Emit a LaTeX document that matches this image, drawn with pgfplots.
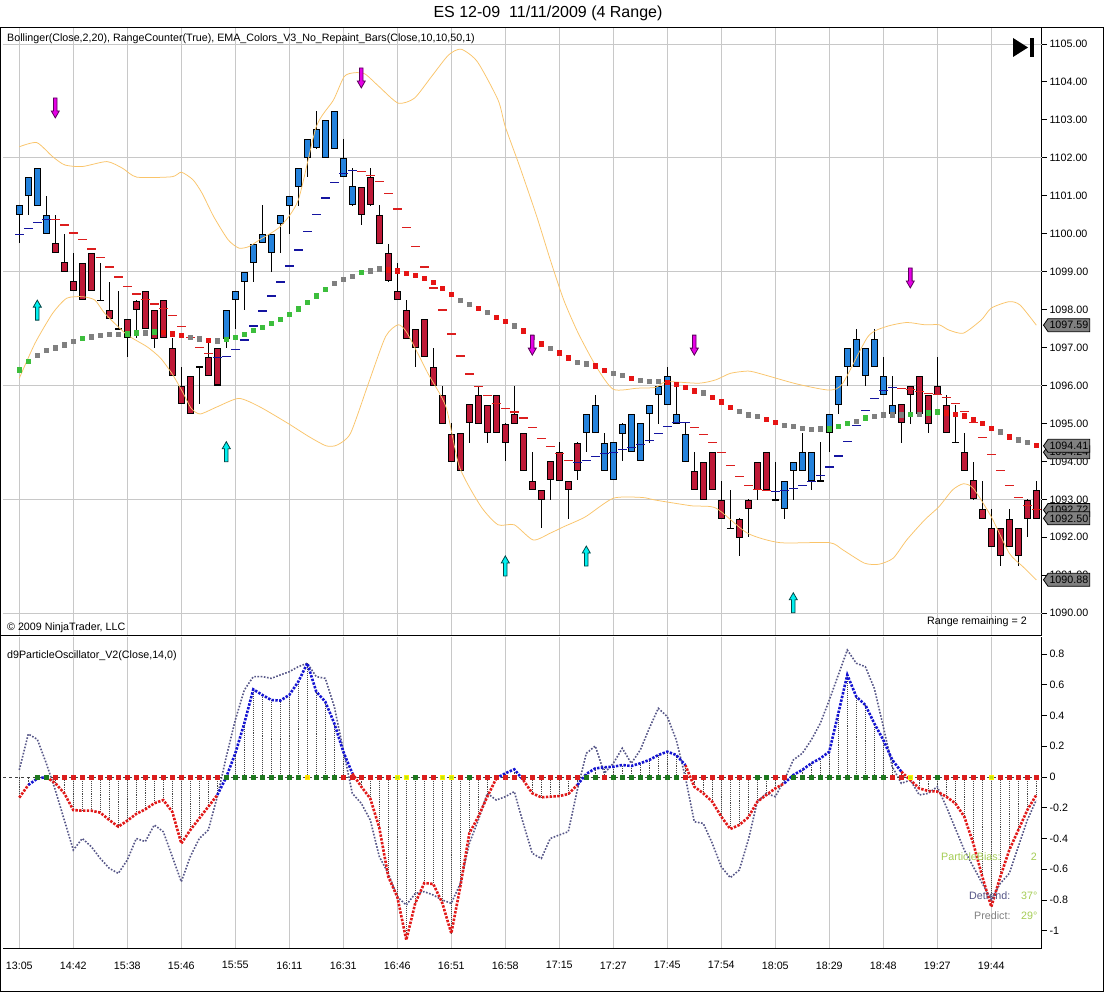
\documentclass[border=0pt]{standalone}
\usepackage{pgfplots}
\pgfplotsset{compat=1.18}
\usepackage{pgfplotstable}
\usepackage{fontspec}
\setmainfont{Liberation Sans}
\usetikzlibrary{shapes.symbols}

\definecolor{candB}{RGB}{36,130,220}
\definecolor{candR}{RGB}{190,25,55}
\definecolor{dashB}{RGB}{20,20,160}
\definecolor{dashR}{RGB}{220,30,30}
\definecolor{emaG}{RGB}{60,190,60}
\definecolor{emaK}{RGB}{128,128,128}
\definecolor{emaR}{RGB}{230,20,20}
\definecolor{bbc}{RGB}{250,196,105}
\definecolor{arrM}{RGB}{230,0,230}
\definecolor{arrMd}{RGB}{90,0,90}
\definecolor{arrC}{RGB}{0,240,240}
\definecolor{arrCd}{RGB}{0,70,70}
\definecolor{gridc}{RGB}{200,200,200}
\definecolor{oscR}{RGB}{225,25,25}
\definecolor{oscB}{RGB}{20,20,210}
\definecolor{slate}{RGB}{85,85,135}
\definecolor{zG}{RGB}{30,120,30}
\definecolor{zR}{RGB}{220,30,30}
\definecolor{zL}{RGB}{190,230,20}
\definecolor{zY}{RGB}{255,200,0}
\definecolor{limeT}{RGB}{165,205,85}
\definecolor{hatchc}{RGB}{70,70,70}
\definecolor{tagc}{RGB}{128,128,128}

\newcommand\tickfont{\fontsize{10.7pt}{12pt}\selectfont}

\pgfdeclareplotmark{dnarrow}{%
 \pgfpathmoveto{\pgfqpoint{0pt}{0pt}}%
 \pgfpathlineto{\pgfqpoint{-4pt}{7pt}}%
 \pgfpathlineto{\pgfqpoint{-1.8pt}{7pt}}%
 \pgfpathlineto{\pgfqpoint{-1.8pt}{20pt}}%
 \pgfpathlineto{\pgfqpoint{1.8pt}{20pt}}%
 \pgfpathlineto{\pgfqpoint{1.8pt}{7pt}}%
 \pgfpathlineto{\pgfqpoint{4pt}{7pt}}%
 \pgfpathclose\pgfusepathqfillstroke}
\pgfdeclareplotmark{uparrow}{%
 \pgfpathmoveto{\pgfqpoint{0pt}{0pt}}%
 \pgfpathlineto{\pgfqpoint{-4pt}{-7pt}}%
 \pgfpathlineto{\pgfqpoint{-1.8pt}{-7pt}}%
 \pgfpathlineto{\pgfqpoint{-1.8pt}{-20pt}}%
 \pgfpathlineto{\pgfqpoint{1.8pt}{-20pt}}%
 \pgfpathlineto{\pgfqpoint{1.8pt}{-7pt}}%
 \pgfpathlineto{\pgfqpoint{4pt}{-7pt}}%
 \pgfpathclose\pgfusepathqfillstroke}

% candles: i, body low, body high, low, high
\pgfplotstableread{
i lo hi L H
0 1100.5 1100.75 1099.75 1100.75
1 1101 1101.5 1100.5 1101.5
2 1100.75 1101.75 1100.75 1101.75
3 1100 1100.5 1100 1101
23 1097.25 1098 1097 1098
24 1098.25 1098.5 1097.5 1098.5
25 1098.75 1099 1098 1099
26 1099.25 1099.75 1098.75 1099.75
27 1099.75 1100 1099.75 1100.75
28 1099.5 1100 1099 1100
29 1100.25 1100.5 1099.5 1100.5
30 1100.75 1101 1100 1101
31 1101.25 1101.75 1100.75 1101.75
32 1102 1102.5 1101.5 1102.5
33 1102.25 1102.75 1102.25 1103.25
34 1102 1103 1102 1103
35 1102.25 1103.25 1102.25 1103.25
36 1101.5 1102 1101.5 1102.5
37 1100.75 1101.25 1100.75 1101.75
63 1094.75 1095.25 1094.25 1095.25
64 1094.75 1095.5 1094.75 1095.75
65 1093.75 1094.5 1093.75 1094.75
66 1093.5 1094.5 1093.5 1094.5
67 1094.75 1095 1094 1095
68 1094.25 1095.25 1094.25 1095.25
69 1094 1095 1094 1095
70 1095.25 1095.5 1094.5 1095.5
71 1095.75 1096 1095 1096
72 1095.5 1096.25 1095.5 1096.5
73 1095 1095.25 1095 1096
74 1094 1094.75 1094 1095
85 1092.75 1093.5 1092.5 1093.5
86 1093.75 1094 1093 1094
87 1093.75 1094.25 1093.75 1094.75
88 1093.5 1094.25 1093.25 1094.25
90 1094.75 1095.25 1094.25 1095.25
91 1095.5 1096.25 1095.25 1096.25
92 1096.5 1097 1096 1097
93 1096.5 1097.25 1096.5 1097.5
94 1096.25 1097 1096 1097
95 1096.5 1097.25 1096.5 1097.5
96 1095.75 1096.25 1095.75 1096.75
97 1095.25 1095.5 1095.25 1096.25
}\candB

\pgfplotstableread{
i lo hi L H
4 1099.5 1099.75 1099.5 1100.5
5 1099 1099.25 1099 1100
6 1098.5 1098.75 1098.5 1099.5
7 1098.25 1099.25 1098.25 1099.25
8 1098.5 1099.5 1098.5 1099.5
9 1098.25 1098.25 1098.25 1099.25
10 1097.75 1098 1097.75 1098.75
11 1097.5 1097.5 1097.5 1098.5
12 1097.25 1097.75 1096.75 1097.75
13 1098 1098.25 1097.25 1098.25
14 1097.5 1098.5 1097.5 1098.5
15 1097.25 1098 1097 1098
16 1097.25 1098.25 1097.25 1098.25
17 1096.25 1097 1096.25 1097.25
18 1095.5 1096 1095.5 1096.5
19 1095.25 1096.25 1095.25 1096.25
20 1096.5 1096.5 1095.5 1096.5
21 1096.25 1096.75 1096.25 1097.25
22 1096 1097 1096 1097
38 1100.5 1101.25 1100.25 1101.25
39 1100.75 1101.5 1100.75 1101.75
40 1099.75 1100.5 1099.75 1100.75
41 1098.75 1099.5 1098.75 1099.75
42 1098.25 1098.5 1098.25 1099.25
43 1097.25 1098 1097.25 1098.25
44 1097 1097.5 1096.5 1097.5
45 1096.75 1097.75 1096.75 1097.75
46 1096 1096.5 1096 1097
47 1095 1095.75 1095 1096
48 1094 1094.75 1094 1095
49 1093.75 1094.75 1093.75 1094.75
50 1095 1095.5 1094.5 1095.5
51 1095 1095.75 1095 1096
52 1094.75 1095.5 1094.5 1095.5
53 1094.75 1095.75 1094.75 1095.75
54 1094.5 1095 1094 1095
55 1095 1095.25 1095 1096
56 1093.75 1094.75 1093.75 1094.75
57 1093.25 1093.5 1093.25 1094.25
58 1093 1093.25 1092.25 1093.25
59 1093.5 1094 1093 1094
60 1093.5 1094.25 1093.5 1094.5
61 1093.25 1093.5 1092.5 1093.5
62 1093.75 1094.5 1093.5 1094.5
75 1093.25 1093.75 1093.25 1094.25
76 1093 1094 1093 1094
77 1093.25 1094.25 1093.25 1094.25
78 1092.5 1093 1092.5 1093.5
79 1092.25 1092.25 1092.25 1093.25
80 1092 1092.5 1091.5 1092.5
81 1092.75 1093 1092 1093
82 1093.25 1094 1093 1094
83 1093.25 1094.25 1093.25 1094.25
84 1093 1093 1093 1094
89 1093.5 1093.5 1093.5 1094.5
98 1095 1095.5 1094.5 1095.5
99 1095.75 1096 1095 1096
100 1095.25 1096.25 1095.25 1096.25
101 1095 1095.75 1094.75 1095.75
102 1095.75 1096 1095.75 1096.75
103 1094.75 1095.5 1094.75 1095.75
104 1094.5 1094.5 1094.5 1095.5
105 1093.75 1094.25 1093.75 1094.75
106 1093 1093.5 1093 1094
107 1092.5 1092.75 1092.5 1093.5
108 1091.75 1092.25 1091.75 1092.75
109 1091.5 1092.25 1091.25 1092.25
110 1091.75 1092.5 1091.75 1092.75
111 1091.5 1092.25 1091.25 1092.25
112 1092.5 1093 1092 1093
113 1092.5 1093.25 1092.5 1093.5
}\candR

% slow EMA dots (g green, k gray, r red)
\pgfplotstableread{
i v c
0 1096.42 g
1 1096.64 g
2 1096.80 k
3 1096.93 k
4 1097.00 k
5 1097.08 k
6 1097.16 k
7 1097.24 g
8 1097.29 k
9 1097.32 k
10 1097.35 k
11 1097.35 k
12 1097.37 g
13 1097.39 g
14 1097.39 k
15 1097.42 g
16 1097.40 r
17 1097.37 r
18 1097.32 r
19 1097.27 k
20 1097.23 k
21 1097.19 r
22 1097.18 k
23 1097.22 g
24 1097.27 g
25 1097.35 g
26 1097.45 g
27 1097.53 g
28 1097.64 g
29 1097.74 g
30 1097.88 g
31 1098.02 g
32 1098.19 g
33 1098.37 g
34 1098.53 g
35 1098.69 k
36 1098.80 k
37 1098.88 k
38 1098.98 g
39 1099.03 k
40 1099.08 k
41 1099.05 r
42 1099.03 r
43 1098.96 r
44 1098.90 r
45 1098.82 r
46 1098.72 r
47 1098.56 r
48 1098.40 r
49 1098.24 k
50 1098.14 k
51 1098.03 r
52 1097.93 k
53 1097.80 r
54 1097.69 r
55 1097.58 k
56 1097.44 r
57 1097.27 k
58 1097.10 r
59 1096.99 k
60 1096.86 r
61 1096.73 r
62 1096.62 k
63 1096.57 k
64 1096.52 r
65 1096.40 r
66 1096.33 k
67 1096.27 k
68 1096.19 r
69 1096.14 k
70 1096.12 k
71 1096.12 k
72 1096.09 r
73 1096.04 r
74 1095.96 r
75 1095.86 r
76 1095.81 k
77 1095.69 r
78 1095.57 r
79 1095.43 r
80 1095.32 k
81 1095.23 k
82 1095.19 k
83 1095.11 r
84 1095.04 r
85 1094.95 k
86 1094.93 k
87 1094.87 k
88 1094.85 k
89 1094.86 k
90 1094.86 g
91 1094.93 g
92 1095.01 g
93 1095.06 k
94 1095.15 g
95 1095.19 k
96 1095.23 k
97 1095.23 k
98 1095.23 k
99 1095.25 g
100 1095.25 k
101 1095.28 g
102 1095.31 g
103 1095.28 r
104 1095.25 r
105 1095.20 r
106 1095.12 r
107 1095.01 r
108 1094.88 r
109 1094.78 k
110 1094.65 r
111 1094.57 k
112 1094.51 k
113 1094.43 r
}\ema

% range counter dashes (b blue, r red)
\pgfplotstableread{
i v c
0 1099.97 b
1 1100.13 b
2 1100.29 b
3 1100.37 b
4 1100.37 r
5 1100.23 r
6 1100.02 r
7 1099.85 r
8 1099.60 r
9 1099.38 r
10 1099.12 r
11 1098.86 r
12 1098.60 r
13 1098.41 r
14 1098.26 r
15 1098.15 r
16 1098.02 r
17 1097.84 r
18 1097.55 r
19 1097.27 r
20 1097.00 r
21 1096.85 r
22 1096.74 b
23 1096.77 b
24 1096.94 b
25 1097.20 b
26 1097.57 b
27 1097.96 b
28 1098.36 b
29 1098.73 b
30 1099.15 b
31 1099.57 b
32 1100.05 b
33 1100.50 b
34 1100.94 b
35 1101.34 b
36 1101.58 b
37 1101.66 b
38 1101.63 r
39 1101.54 r
40 1101.38 r
41 1101.05 r
42 1100.65 r
43 1100.16 r
44 1099.66 r
45 1099.12 r
46 1098.57 r
47 1097.99 r
48 1097.36 r
49 1096.78 r
50 1096.30 r
51 1095.97 r
52 1095.73 r
53 1095.53 r
54 1095.40 r
55 1095.30 r
56 1095.14 r
57 1094.90 r
58 1094.61 r
59 1094.39 r
60 1094.20 r
61 1094.02 r
62 1093.97 b
63 1094.02 b
64 1094.13 b
65 1094.21 b
66 1094.23 b
67 1094.31 b
68 1094.36 b
69 1094.44 b
70 1094.56 b
71 1094.73 b
72 1094.92 b
73 1095.03 b
74 1095.03 b
75 1094.89 r
76 1094.70 r
77 1094.50 r
78 1094.23 r
79 1093.89 r
80 1093.60 r
81 1093.36 r
82 1093.26 r
83 1093.23 r
84 1093.20 b
85 1093.23 b
86 1093.28 b
87 1093.37 b
88 1093.47 b
89 1093.63 b
90 1093.85 b
91 1094.14 b
92 1094.52 b
93 1094.94 b
94 1095.35 b
95 1095.66 b
96 1095.87 b
97 1095.95 b
98 1095.92 r
99 1095.89 r
100 1095.84 r
101 1095.79 r
102 1095.76 r
103 1095.68 r
104 1095.53 r
105 1095.31 r
106 1095.02 r
107 1094.63 r
108 1094.18 r
109 1093.76 r
110 1093.37 r
111 1093.04 r
112 1092.83 r
113 1092.73 r
}\dashes

\pgfplotstableread{
x v
0 1102.29
1.94 1102.40
3.7 1102.03
5.07 1101.81
7.02 1101.77
9.74 1101.90
11.5 1101.72
13.06 1101.49
16.96 1101.50
18.0 1101.62
19.3 1101.42
20.3 1101.07
21.6 1100.45
23.2 1099.84
24.4 1099.62
25.5 1099.66
26.7 1099.84
29.0 1100.19
31.0 1100.89
33.0 1102.82
34.9 1103.52
36.1 1104.14
37.2 1104.24
38.4 1104.21
40.0 1103.87
42.1 1103.44
43.9 1103.57
45.8 1104.14
47.7 1104.71
49.1 1104.86
50.9 1104.53
53.2 1103.52
54.0 1102.82
55.6 1101.77
57.5 1100.45
59.0 1099.31
60.5 1098.25
62.1 1097.38
64.1 1096.50
66.0 1095.90
68.7 1095.93
70.7 1095.95
71.9 1096.10
75.5 1096.06
77.4 1096.15
79.0 1096.32
81.0 1096.38
82.5 1096.30
86.4 1096.04
90.0 1095.88
91.5 1096.06
94.3 1097.29
96.3 1097.55
98.6 1097.66
100.6 1097.60
102.2 1097.60
103.3 1097.46
104.9 1097.38
106.9 1097.73
108.0 1098.04
110.0 1098.21
111.2 1098.12
113.0 1097.59
}\bbup

\pgfplotstableread{
x v
0 1096.19
1.74 1097.11
3.7 1097.90
5.27 1098.30
7.02 1098.34
8.4 1098.25
9.5 1097.90
11.9 1097.35
14.2 1097.02
15.7 1096.72
17.0 1096.30
18.1 1095.85
19.1 1095.40
20.1 1095.25
22.0 1095.44
24.4 1095.66
26.7 1095.44
29.8 1095.01
32.2 1094.65
34.1 1094.41
35.3 1094.43
36.8 1094.74
38.8 1096.06
40.7 1097.29
42.1 1097.60
43.1 1097.38
45.4 1096.32
47.4 1095.44
48.9 1093.86
51.3 1092.81
53.2 1092.33
55.0 1092.33
57.1 1091.93
59.0 1092.11
60.5 1092.28
62.9 1092.54
66.0 1093.03
69.2 1093.05
70.7 1092.98
74.7 1092.83
77.4 1092.77
80.9 1092.11
84.5 1091.86
90.0 1091.86
91.5 1091.67
93.9 1091.32
95.5 1091.29
97.1 1091.45
98.6 1091.93
100.6 1092.46
102.2 1092.81
103.7 1093.25
104.9 1093.41
106.0 1093.29
108.0 1092.54
110.0 1091.58
111.5 1091.23
113.0 1090.88
}\bblo

% oscillator: i, main v, detrend d
\pgfplotstableread{
i v d
0 -0.134 0.046
1 -0.052 0.280
2 -0.010 0.245
3 0.000 0.089
4 -0.040 -0.085
5 -0.106 -0.280
6 -0.215 -0.475
7 -0.219 -0.400
8 -0.219 -0.453
9 -0.232 -0.530
10 -0.280 -0.594
11 -0.323 -0.627
12 -0.284 -0.540
13 -0.240 -0.400
14 -0.210 -0.420
15 -0.171 -0.312
16 -0.150 -0.356
17 -0.226 -0.518
18 -0.432 -0.681
19 -0.345 -0.518
20 -0.269 -0.400
21 -0.193 -0.345
22 -0.117 -0.128
23 0.000 0.132
24 0.154 0.371
25 0.349 0.566
26 0.570 0.653
27 0.534 0.653
28 0.501 0.642
29 0.497 0.664
30 0.534 0.685
31 0.620 0.718
32 0.740 0.740
33 0.555 0.653
34 0.490 0.642
35 0.349 0.458
36 0.165 0.176
37 0.024 -0.106
38 -0.063 -0.171
39 -0.140 -0.280
40 -0.330 -0.518
41 -0.649 -0.627
42 -0.780 -0.780
43 -1.060 -0.833
44 -0.820 -0.757
45 -0.690 -0.746
46 -0.696 -0.768
47 -0.820 -0.800
48 -1.017 -0.822
49 -0.714 -0.692
50 -0.367 -0.432
51 -0.258 -0.280
52 -0.128 -0.106
53 -0.009 -0.150
54 0.024 -0.128
55 0.050 -0.095
56 -0.020 -0.302
57 -0.106 -0.497
58 -0.132 -0.530
59 -0.128 -0.400
60 -0.124 -0.377
61 -0.111 -0.356
62 -0.052 -0.085
63 0.020 0.154
64 0.056 0.202
65 0.063 0.024
66 0.067 0.089
67 0.078 0.187
68 0.072 0.089
69 0.089 0.176
70 0.111 0.317
71 0.143 0.447
72 0.165 0.393
73 0.143 0.241
74 0.078 0.000
75 -0.063 -0.291
76 -0.106 -0.302
77 -0.161 -0.432
78 -0.258 -0.584
79 -0.338 -0.655
80 -0.312 -0.605
81 -0.262 -0.410
82 -0.161 -0.161
83 -0.117 -0.106
84 -0.074 -0.128
85 -0.041 -0.020
86 0.013 0.111
87 0.046 0.154
88 0.089 0.241
89 0.121 0.349
90 0.165 0.501
91 0.414 0.664
92 0.664 0.826
93 0.523 0.740
94 0.469 0.718
95 0.349 0.577
96 0.241 0.328
97 0.111 0.067
98 0.035 -0.041
99 -0.020 -0.020
100 -0.074 -0.117
101 -0.091 -0.106
102 -0.095 -0.063
103 -0.128 -0.193
104 -0.171 -0.334
105 -0.258 -0.475
106 -0.432 -0.584
107 -0.649 -0.692
108 -0.844 -0.800
109 -0.649 -0.692
110 -0.475 -0.627
111 -0.345 -0.453
112 -0.215 -0.280
113 -0.117 -0.150
}\osc

% zero-line state markers
\pgfplotstableread{
i c
2 g
3 g
4 r
5 r
6 r
7 r
8 r
9 r
10 r
11 r
12 r
13 r
14 r
15 r
16 r
17 r
18 r
19 r
20 r
21 r
22 r
23 g
24 g
25 g
26 g
27 g
28 g
29 g
30 g
31 g
32 y
33 g
34 g
35 g
36 r
37 r
38 r
39 r
40 r
41 r
42 l
43 l
44 g
45 r
46 r
47 l
48 l
49 r
50 g
51 r
52 r
53 r
54 r
55 r
56 r
57 r
58 r
59 r
60 r
61 r
62 r
63 g
64 g
65 r
66 g
67 g
68 g
69 g
70 g
71 g
72 g
73 g
74 r
75 r
76 r
77 r
78 r
79 r
80 r
81 r
82 g
83 g
84 r
85 r
86 g
87 g
88 g
89 g
90 g
91 g
92 g
93 g
94 g
95 g
96 g
97 r
98 r
99 l
100 r
101 r
102 g
103 r
104 r
105 r
106 r
107 r
108 l
109 r
110 r
111 r
112 r
113 r
}\zmark

\pgfplotsset{
  ebar/.style 2 args={draw=none,mark=none,forget plot,
    error bars/.cd,y dir=both,y explicit,error mark=none,
    error bar style={draw=#1,line width=#2}},
}

\begin{document}
\begin{tikzpicture}[x=1pt,y=1pt]
\useasboundingbox (0,0) rectangle (1104,993);
\fill[white] (0,0) rectangle (1104,993);

\begin{axis}[
  at={(3pt,357pt)}, anchor=south west, scale only axis,
  width=1039pt, height=608pt,
  xmin=-1.811, xmax=113.633, ymin=1089.40, ymax=1105.42,
  axis y line*=right, axis x line*=bottom,
  x axis line style={draw=none},
  y axis line style={black,line width=1pt},
  xtick={0,6,...,108}, xticklabels={}, xtick style={draw=none},
  xmajorgrids, grid style={gridc,line width=0.8pt},
  ytick={1090,1091,1092,1093,1094,1095,1096,1097,1098,1099,1100,1101,1102,1103,1104,1105},
  yticklabels={1090.00,1091.00,1092.00,1093.00,1094.00,1095.00,1096.00,1097.00,1098.00,1099.00,1100.00,1101.00,1102.00,1103.00,1104.00,1105.00},
  extra y ticks={1090,1093,1096,1099,1102,1105},
  extra y tick labels={},
  extra y tick style={ymajorgrids=true,major tick length=0pt},
  tick align=outside, major tick length=5pt,
  y tick style={black,line width=0.8pt},
  tick label style={font=\tickfont},
  yticklabel style={xshift=-1pt},
]
% candle wicks
\addplot[ebar={black}{1pt}]
  table[x=i,y expr={(\thisrow{L}+\thisrow{H})/2},y error expr={(\thisrow{H}-\thisrow{L})/2}]{\candB};
\addplot[ebar={black}{1pt}]
  table[x=i,y expr={(\thisrow{L}+\thisrow{H})/2},y error expr={(\thisrow{H}-\thisrow{L})/2}]{\candR};
% bodies outline
\addplot[ebar={black}{7pt}]
  table[x=i,y expr={(\thisrow{lo}+\thisrow{hi})/2},y error expr={max((\thisrow{hi}-\thisrow{lo})/2,0.014)}]{\candB};
\addplot[ebar={black}{7pt}]
  table[x=i,y expr={(\thisrow{lo}+\thisrow{hi})/2},y error expr={max((\thisrow{hi}-\thisrow{lo})/2,0.014)}]{\candR};
% bodies fill
\addplot[ebar={candB}{5pt}]
  table[x=i,y expr={(\thisrow{lo}+\thisrow{hi})/2},y error expr={max((\thisrow{hi}-\thisrow{lo})/2-0.0264,0)}]{\candB};
\addplot[ebar={candR}{5pt}]
  table[x=i,y expr={(\thisrow{lo}+\thisrow{hi})/2},y error expr={max((\thisrow{hi}-\thisrow{lo})/2-0.0264,0)}]{\candR};
% Bollinger
\addplot[bbc,line width=0.75pt,smooth,tension=0.4,mark=none] table[x=x,y=v]{\bbup};
\addplot[bbc,line width=0.75pt,smooth,tension=0.4,mark=none] table[x=x,y=v]{\bblo};
% range counter dashes
\addplot[scatter,only marks,scatter src=explicit symbolic,mark size=4.3pt,
  scatter/classes={b={mark=-,draw=dashB,line width=1.3pt},r={mark=-,draw=dashR,line width=1.3pt}}]
  table[x=i,y=v,meta=c]{\dashes};
% EMA dots
\addplot[scatter,only marks,scatter src=explicit symbolic,mark size=2.2pt,
  scatter/classes={g={mark=square*,draw=emaG,fill=emaG},k={mark=square*,draw=emaK,fill=emaK},r={mark=square*,draw=emaR,fill=emaR}}]
  table[x=i,y=v,meta=c]{\ema};
% arrows
\addplot[only marks,mark=dnarrow,mark options={fill=arrM,draw=arrMd,line width=0.8pt}]
  coordinates {(4,1103.05) (38,1103.84) (57,1096.80) (75,1096.80) (99,1098.57)};
\addplot[only marks,mark=uparrow,mark options={fill=arrC,draw=arrCd,line width=0.8pt}]
  coordinates {(2,1098.25) (23,1094.52) (54,1091.51) (63,1091.77) (86,1090.54)};
\coordinate (t1) at (axis cs:113.633,1097.59);
\coordinate (t2) at (axis cs:113.633,1094.41);
\coordinate (t3) at (axis cs:113.633,1094.24);
\coordinate (t4) at (axis cs:113.633,1092.72);
\coordinate (t5) at (axis cs:113.633,1092.50);
\coordinate (t6) at (axis cs:113.633,1090.88);
\end{axis}

\begin{axis}[
  at={(3pt,44pt)}, anchor=south west, scale only axis,
  width=1039pt, height=312pt,
  xmin=-1.811, xmax=113.633, ymin=-1.119, ymax=0.911,
  axis y line*=right, axis x line*=bottom,
  x axis line style={black,line width=1pt},
  y axis line style={black,line width=1pt},
  xtick={0,6,...,108},
  xticklabels={13:05,14:42,15:38,15:46,15:55,16:11,16:31,16:46,16:51,16:58,17:15,17:27,17:45,17:54,18:05,18:29,18:48,19:27,19:44},
  xtick style={draw=none},
  xmajorgrids, grid style={gridc,line width=0.8pt},
  ytick={-1,-0.8,-0.6,-0.4,-0.2,0,0.2,0.4,0.6,0.8},
  yticklabels={-1,-0.8,-0.6,-0.4,-0.2,0,0.2,0.4,0.6,0.8},
  tick align=outside, major tick length=5pt,
  y tick style={black,line width=0.8pt},
  tick label style={font=\tickfont},
  xticklabel style={yshift=-4pt},
  yticklabel style={xshift=-1pt},
]
% hatching from zero to the oscillator
\addplot[draw=none,mark=none,forget plot,error bars/.cd,y dir=both,y explicit,error mark=none,
  error bar style={draw=hatchc,line width=0.5pt,dash pattern=on 1pt off 1pt}]
  table[x=i,y expr={\thisrow{v}/2},y error expr={abs(\thisrow{v})/2}]{\osc};
% detrend
\addplot[slate,line width=1.6pt,dash pattern=on 1.6pt off 1.6pt,mark=none] table[x=i,y=d]{\osc};
% zero line
\addplot[black!75,line width=0.8pt,dash pattern=on 3pt off 3pt,mark=none] coordinates {(-1.811,0) (113.633,0)};
\addplot[scatter,only marks,scatter src=explicit symbolic,mark size=2.2pt,
  scatter/classes={g={mark=square*,draw=zG,fill=zG},r={mark=square*,draw=zR,fill=zR},l={mark=square*,draw=yellow,fill=zL},y={mark=square*,draw=yellow,fill=zY}}]
  table[x=i,y expr=0,meta=c]{\zmark};
% main oscillator segments
\pgfplotsset{oscline/.style={line width=2.6pt,dash pattern=on 2.4pt off 1.4pt,mark=none}}
\addplot[oscline,oscR,restrict x to domain=0:1] table[x=i,y=v]{\osc};
\addplot[oscline,oscR,restrict x to domain=3:22] table[x=i,y=v]{\osc};
\addplot[oscline,oscR,restrict x to domain=37:53] table[x=i,y=v]{\osc};
\addplot[oscline,oscR,restrict x to domain=56:62] table[x=i,y=v]{\osc};
\addplot[oscline,oscR,restrict x to domain=74:85] table[x=i,y=v]{\osc};
\addplot[oscline,oscR,restrict x to domain=98:113] table[x=i,y=v]{\osc};
\addplot[oscline,oscB,restrict x to domain=1:3] table[x=i,y=v]{\osc};
\addplot[oscline,oscB,restrict x to domain=22:37] table[x=i,y=v]{\osc};
\addplot[oscline,oscB,restrict x to domain=53:56] table[x=i,y=v]{\osc};
\addplot[oscline,oscB,restrict x to domain=62:74] table[x=i,y=v]{\osc};
\addplot[oscline,oscB,restrict x to domain=85:98] table[x=i,y=v]{\osc};
\end{axis}

% price tags on the right axis
\tikzset{tag/.style={shape=signal,signal to=west,signal pointer angle=110,fill=tagc,draw=black,
  line width=0.8pt,inner xsep=1.5pt,inner ysep=0.6pt,minimum height=13pt,font=\tickfont,text=black,anchor=west}}
\node[tag] at ([xshift=1pt]t1) {1097.59};
\node[tag] at ([xshift=1pt]t3) {1094.24};
\node[tag] at ([xshift=1pt]t2) {1094.41};
\node[tag] at ([xshift=1pt]t4) {1092.72};
\node[tag] at ([xshift=1pt]t5) {1092.50};
\node[tag] at ([xshift=1pt]t6) {1090.88};

% frame
\draw[black,line width=1pt] (0.5,1) rectangle (1103.5,965.5);
\draw[black,line width=1pt] (0,357) -- (1042,357);

% texts
\node[font=\fontsize{16pt}{18pt}\selectfont] at (548,980) {ES 12-09\ \ 11/11/2009 (4 Range)};
\node[font=\tickfont,anchor=west,inner sep=0pt] at (7,954) {Bollinger(Close,2,20), RangeCounter(True), EMA\_Colors\_V3\_No\_Repaint\_Bars(Close,10,10,50,1)};
\node[font=\tickfont,anchor=west,inner sep=0pt] at (7,365) {\textcopyright\ 2009 NinjaTrader, LLC};
\node[font=\tickfont,anchor=east,inner sep=0pt] at (1027,371) {Range remaining = 2};
\node[font=\tickfont,anchor=west,inner sep=0pt] at (7,337) {d9ParticleOscillator\_V2(Close,14,0)};
\node[font=\tickfont,anchor=west,inner sep=0pt,text=limeT] at (941,136) {ParticleBias:};
\node[font=\tickfont,anchor=east,inner sep=0pt,text=limeT] at (1037,136) {2};
\node[font=\tickfont,anchor=west,inner sep=0pt,text=slate] at (969,97) {Detrend:};
\node[font=\tickfont,anchor=west,inner sep=0pt,text=limeT] at (1021,97) {37°};
\node[font=\tickfont,anchor=west,inner sep=0pt,text=emaK] at (974,77) {Predict:};
\node[font=\tickfont,anchor=west,inner sep=0pt,text=limeT] at (1021,77) {29°};
% go-to-end icon
\fill[black] (1013,955) -- (1013,936) -- (1028,945.5) -- cycle;
\fill[black] (1030,936) rectangle (1034,955);
\end{tikzpicture}
\end{document}
